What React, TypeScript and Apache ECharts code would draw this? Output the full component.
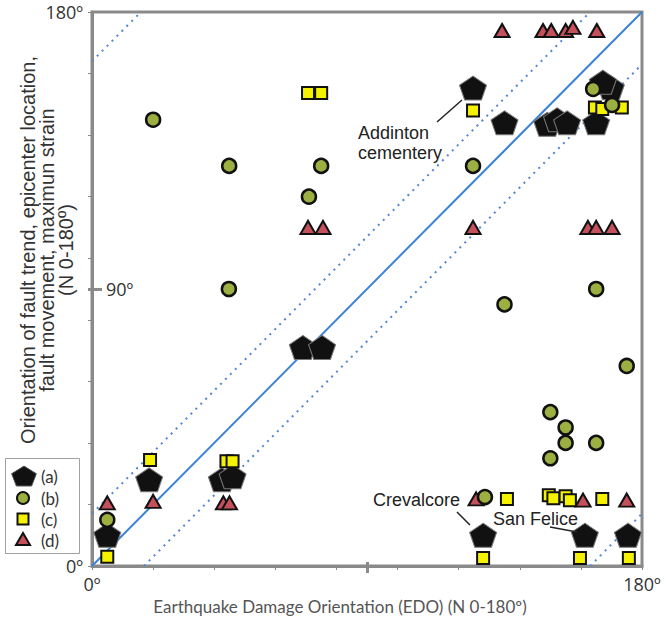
import React, { useEffect, useRef } from "react";
import * as echarts from "echarts";

// ---- data (degrees) ----
const seriesA: number[][] = [
  [5, 10], [18.7, 28], [42.5, 28], [46, 29], [69, 71], [75.3, 71],
  [124.7, 155.3], [135, 144], [149, 143.5], [152.2, 145], [155.5, 144], [165, 144],
  [169.8, 155.4], [167.2, 157.2], [128, 10], [161.3, 10], [175.4, 10],
];
const seriesB: number[][] = [
  [5, 15], [20, 145], [44.9, 130], [75, 130], [71, 120], [44.8, 90], [124.7, 130],
  [164, 155], [170.2, 149.8], [165, 90], [135, 85], [175, 65], [150, 50], [155, 45],
  [155, 40], [165, 40], [150, 35], [128.6, 22.4],
];
const seriesC: number[][] = [
  [5, 3], [19, 34.4], [44, 34], [46, 34], [70.7, 153.7], [75, 153.7], [124.7, 148],
  [164.6, 149], [167, 148.5], [173.4, 149], [135.8, 21.8], [149.5, 23], [151, 22],
  [155, 22.7], [156.4, 21.4], [167, 21.8], [128, 2.6], [159.7, 2.6], [175.7, 2.6],
];
const seriesD: number[][] = [
  [5, 20.5], [20, 21], [43, 20.5], [45, 20.5], [70.7, 110], [75.6, 110], [124.7, 110],
  [134.2, 174], [147.6, 174], [150.3, 174], [155, 174], [157.4, 175], [165.2, 174],
  [162.3, 110], [165, 110], [170.2, 110], [125.7, 21.8], [160.7, 21.4], [175, 21.4],
];
const lineEqual: number[][] = [[0, 0], [180, 180]];
const dotUpper: number[][] = [[0, 17], [163, 180]];
const dotLower: number[][] = [[17, 0], [180, 163]];
const dotWrapUpper: number[][] = [[0, 164], [16, 180]];
const dotWrapLower: number[][] = [[163, 0], [180, 17]];
const tickValues = [0, 20, 40, 60, 80, 90, 100, 120, 140, 160, 180];
const endLabels = [0, 180];
const midLabel = [90];
const legendNames = ["(a)", "(b)", "(c)", "(d)"];

const PENTA = "path://M50,0L97.55,34.55L79.39,90.45L20.61,90.45L2.45,34.55Z";
const GREEN = "#9bb040";
const YELLOW = "#f4f200";
const RED = "#c4505c";
const BLUE = "#3b83d6";
const AXIS = "#8a8a8a";

function pentPoints(cx: number, cy: number, rx: number, ry: number) {
  const pts: number[][] = [];
  for (let i = 0; i < 5; i++) {
    const a = -Math.PI / 2 + (i * 2 * Math.PI) / 5;
    pts.push([cx + rx * Math.cos(a), cy + ry * Math.sin(a) + ry * 0.1]);
  }
  return pts;
}

export default function App() {
  const ref = useRef<HTMLDivElement>(null);
  useEffect(() => {
    if (!ref.current) return;
    const chart = echarts.init(ref.current, null, { renderer: "svg" });
    const lab = { fontFamily: "Open Sans", fontSize: 18, color: "#333" };
    const baseAxis = (pos: string) => ({
      type: "value",
      min: 0,
      max: 180,
      interval: 20,
      position: pos,
      splitLine: { show: false },
      axisLine: { show: true, lineStyle: { color: AXIS, width: 3 } },
      axisTick: { show: true, customValues: tickValues, length: 4, lineStyle: { color: AXIS, width: 1 } },
      axisLabel: { show: true, customValues: endLabels, formatter: (v: number) => v + "º", margin: 9, ...lab },
    });
    const majorAxis = (pos: string, inside: boolean, len: number, label: boolean) => ({
      type: "value",
      min: 0,
      max: 180,
      interval: 20,
      position: pos,
      splitLine: { show: false },
      axisLine: { show: false },
      axisTick: { show: true, inside, customValues: midLabel, length: len, lineStyle: { color: AXIS, width: 3 } },
      axisLabel: label
        ? { show: true, inside, customValues: midLabel, formatter: (v: number) => v + "º", margin: 14, ...lab }
        : { show: false },
    });
    const scatterBase = { type: "scatter", z: 5 };
    const lineBase = { type: "line", showSymbol: false, symbol: "none", silent: true, z: 2 };
    const dotted = { color: "#4f86d6", width: 2, type: [2, 5] as any };

    const legendY = [476, 498, 519, 540];
    const graphic: any[] = [
      { type: "rect", shape: { x: 5.5, y: 458.5, width: 74, height: 95 }, style: { fill: "#fff", stroke: "#a0a0a0", lineWidth: 1 }, z: 10 },
      { type: "polygon", shape: { points: pentPoints(24, legendY[0], 13, 11) }, style: { fill: "#111", stroke: "#555", lineWidth: 1 }, z: 11 },
      { type: "circle", shape: { cx: 23, cy: legendY[1], r: 6 }, style: { fill: GREEN, stroke: "#111", lineWidth: 2 }, z: 11 },
      { type: "rect", shape: { x: 17.5, y: legendY[2] - 5.5, width: 11, height: 11 }, style: { fill: YELLOW, stroke: "#111", lineWidth: 2 }, z: 11 },
      { type: "polygon", shape: { points: [[23, legendY[3] - 7], [30, legendY[3] + 5], [16, legendY[3] + 5]] }, style: { fill: RED, stroke: "#111", lineWidth: 2 }, z: 11 },
      ...legendNames.map((t, i) => ({
        type: "text", x: 41, y: legendY[i], z: 11,
        style: { text: t, fontFamily: "Lato", fontSize: 17, lineHeight: 19, fill: "#333", verticalAlign: "middle", align: "left" },
      })),
      {
        type: "text", x: 47, y: 250, rotation: Math.PI / 2, z: 11,
        style: {
          text: "Orientation of fault trend, epicenter location,\nfault movement, maximun strain\n(N 0-180º)",
          fontFamily: "Liberation Sans", fontSize: 20, lineHeight: 19, fill: "#333", align: "center", verticalAlign: "middle",
        },
      },
      {
        type: "text", x: 340, y: 606, z: 11,
        style: { text: "Earthquake Damage Orientation (EDO) (N 0-180º)", fontFamily: "Lato", fontSize: 17, fill: "#555", align: "center", verticalAlign: "middle" },
      },
      {
        type: "text", x: 358, y: 143, z: 11,
        style: { text: "Addinton\ncementery", fontFamily: "Liberation Sans", fontSize: 18, lineHeight: 20, fill: "#222", align: "left", verticalAlign: "middle" },
      },
      { type: "line", shape: { x1: 437, y1: 122, x2: 462, y2: 100 }, style: { stroke: "#222", lineWidth: 1.5 }, z: 11 },
      {
        type: "text", x: 373, y: 500, z: 11,
        style: { text: "Crevalcore", fontFamily: "Liberation Sans", fontSize: 18, fill: "#222", align: "left", verticalAlign: "middle" },
      },
      { type: "line", shape: { x1: 457, y1: 512, x2: 470, y2: 525 }, style: { stroke: "#222", lineWidth: 1.5 }, z: 11 },
      {
        type: "text", x: 493, y: 519, z: 11,
        style: { text: "San Felice", fontFamily: "Liberation Sans", fontSize: 18, fill: "#222", align: "left", verticalAlign: "middle" },
      },
      { type: "line", shape: { x1: 550, y1: 527, x2: 577, y2: 532 }, style: { stroke: "#222", lineWidth: 1.5 }, z: 11 },
    ];

    chart.setOption({
      animation: false,
      backgroundColor: "#fff",
      grid: { left: 92, right: 24, top: 12, bottom: 52, show: true, borderColor: AXIS, borderWidth: 3, backgroundColor: "transparent" },
      xAxis: [baseAxis("bottom"), majorAxis("bottom", false, 7, false), majorAxis("bottom", true, 4, false)],
      yAxis: [baseAxis("left"), majorAxis("left", true, 10, true), majorAxis("left", false, 4, false)],
      series: [
        { ...lineBase, name: "eq", data: lineEqual, lineStyle: { color: BLUE, width: 2 } },
        { ...lineBase, name: "up", data: dotUpper, lineStyle: dotted },
        { ...lineBase, name: "lo", data: dotLower, lineStyle: dotted },
        { ...lineBase, name: "wu", data: dotWrapUpper, lineStyle: dotted },
        { ...lineBase, name: "wl", data: dotWrapLower, lineStyle: dotted },
        { ...scatterBase, name: "(a)", data: seriesA, symbol: PENTA, symbolSize: [27, 24], itemStyle: { color: "#111", borderColor: "#777", borderWidth: 1, opacity: 1 } },
        { ...scatterBase, name: "(c)", data: seriesC, symbol: "rect", symbolSize: 12, itemStyle: { color: YELLOW, borderColor: "#111", borderWidth: 2, opacity: 1 } },
        { ...scatterBase, name: "(d)", data: seriesD, symbol: "triangle", symbolSize: [15, 13], itemStyle: { color: RED, borderColor: "#111", borderWidth: 2, opacity: 1 } },
        { ...scatterBase, name: "(b)", data: seriesB, symbol: "circle", symbolSize: 14, itemStyle: { color: GREEN, borderColor: "#111", borderWidth: 2.5, opacity: 1 } },
      ],
      graphic,
    });
    return () => chart.dispose();
  }, []);
  return <div ref={ref} style={{ position: "fixed", left: 0, top: 0, width: 666, height: 618, background: "#fff" }} />;
}
